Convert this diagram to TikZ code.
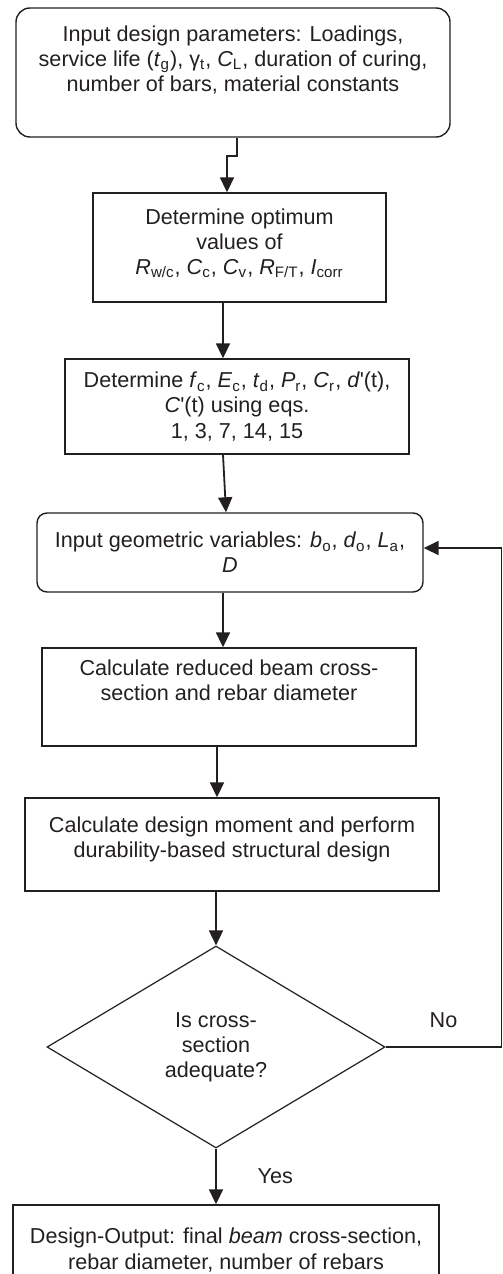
\documentclass[tikz,border=0pt]{standalone}
\usepackage{fontspec}
\setmainfont{Liberation Sans}
\usetikzlibrary{shapes.geometric, arrows.meta, positioning}

\definecolor{ink}{HTML}{231F20}
\newcommand{\sym}[2]{\textit{#1}\textsubscript{#2}}
\newcommand{\padrow}[1]{\\[#1]\mbox{}}

\begin{document}
\begin{tikzpicture}[
    font=\fontsize{10.8pt}{12.6pt}\selectfont,
    every node/.style={text=ink},
    io/.style={rectangle, rounded corners=7pt, draw=ink, line width=0.7pt, align=center},
    process/.style={rectangle, draw=ink, line width=0.7pt, align=center},
    decision/.style={diamond, aspect=1.67, draw=ink, line width=0.6pt, align=center, inner sep=0pt},
    arrow/.style={draw=ink, line width=0.9pt, -{Triangle[length=7.5pt,width=7pt]}}
]
    \useasboundingbox (0,0) rectangle (251.5pt,-637pt);

    \node (inp) [io, minimum width=217pt, minimum height=64.5pt] at (116.5pt,-36.25pt)
        {Input design parameters: Loadings,\\ service life (\sym{t}{g}), γ\textsubscript{t}, \sym{C}{L}, duration of curing,\\ number of bars, material constants\padrow{1.5pt}};
    \node (opt) [process, minimum width=146.5pt, minimum height=54.5pt] at (119.75pt,-123.75pt)
        {Determine optimum\\ values of\\ \sym{R}{w/c}, \sym{C}{c}, \sym{C}{v}, \sym{R}{F/T}, \sym{I}{corr}\padrow{-6.5pt}};
    \node (det) [process, minimum width=172pt, minimum height=47.5pt] at (118.5pt,-203.25pt)
        {Determine \sym{f}{c}, \sym{E}{c}, \sym{t}{d}, \sym{P}{r}, \sym{C}{r}, \textit{d}\textquotesingle(t),\\ \textit{C}\textquotesingle(t) using eqs.\\ 1, 3, 7, 14, 15};
    \node (geo) [io, rounded corners=5pt, minimum width=193pt, minimum height=39.5pt] at (115pt,-276.25pt)
        {Input geometric variables: \sym{b}{o}, \sym{d}{o}, \sym{L}{a},\\ \textit{D}};
    \node (red) [process, minimum width=187pt, minimum height=49pt] at (114.5pt,-348.5pt)
        {Calculate reduced beam cross-\\ section and rebar diameter\padrow{4pt}};
    \node (des) [process, minimum width=207pt, minimum height=46.5pt] at (116pt,-422.25pt)
        {Calculate design moment and perform\\ durability-based structural design\padrow{-5pt}};
    \node (chk) [decision, minimum width=169pt, minimum height=101pt] at (108pt,-523.5pt)
        {Is cross-\\ section\\ adequate?};
    \node (out) [process, minimum width=213pt, minimum height=45pt] at (113pt,-625pt)
        {Design-Output: final \textit{beam} cross-section,\\ rebar diameter, number of rebars};

    % return path on the right edge
    \coordinate (back) at (250.75pt,0);

    \draw [arrow] ([xshift=2pt]inp.south) -- ++(0,-9pt) -| ([xshift=-6.25pt]opt.north);
    \draw [arrow] ([xshift=-8.25pt]opt.south) -- ([xshift=-8.25pt]opt.south |- det.north);
    \draw [arrow] ([xshift=-7pt]det.south) -- ([xshift=-2pt]geo.north);
    \draw [arrow] ([xshift=-3.5pt]geo.south) -- ([xshift=-3.5pt]geo.south |- red.north);
    \draw [arrow] ([xshift=-6pt]red.south) -- ([xshift=-6pt]red.south |- des.north);
    \draw [arrow] (chk.north |- des.south) -- (chk.north);
    \draw [arrow] (chk.south) -- node[right=17pt] {Yes} (chk.south |- out.north);
    \draw [arrow] (chk.east) -- node[above=6pt] {No} (chk.east -| back) |- ([yshift=2.25pt]geo.east);
\end{tikzpicture}
\end{document}
